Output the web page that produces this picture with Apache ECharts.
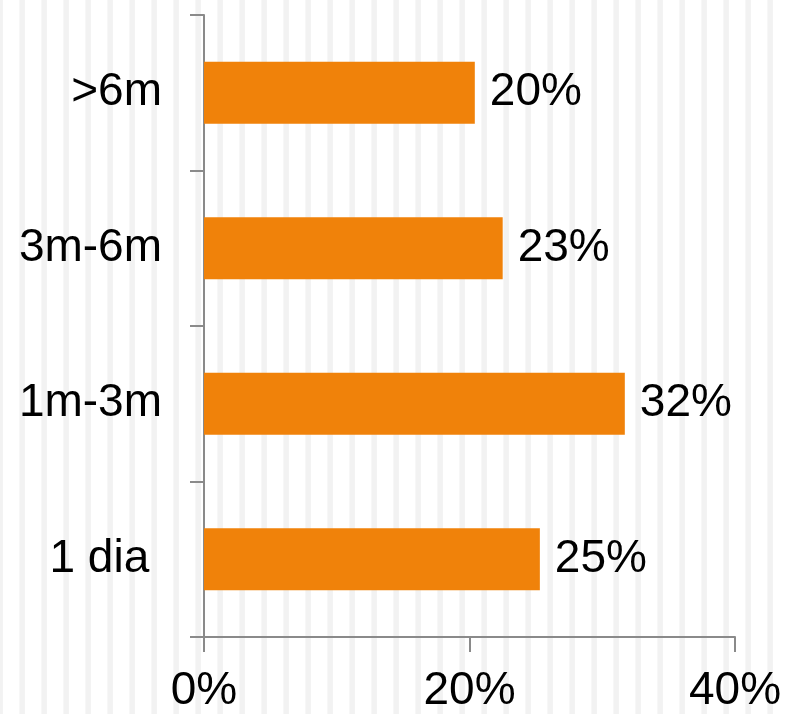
<!DOCTYPE html>
<html>
<head>
<meta charset="utf-8">
<script src="https://cdn.jsdelivr.net/npm/echarts@6/dist/echarts.min.js"></script>
<style>
html,body{margin:0;padding:0;background:#fff;}
#chart{width:786px;height:714px;}
</style>
</head>
<body>
<div id="chart"></div>
<script>
// Data (bottom to top order for category axis)
var categories = ['1 dia ', '1m-3m', '3m-6m', '>6m'];
var values = [25.3, 31.7, 22.5, 20.4];
var xTicks = [0, 20, 40];

// striped background tile
var tile = document.createElement('canvas');
tile.width = 22; tile.height = 10;
var ctx = tile.getContext('2d');
ctx.fillStyle = '#ffffff';
ctx.fillRect(0, 0, 22, 10);
ctx.fillStyle = '#f2f2f2';
ctx.fillRect(19.4, 0, 5.5, 10);
ctx.fillRect(-2.6, 0, 5.5, 10);

var font = '"Liberation Sans", Arial, sans-serif';
var axisColor = '#8a8a8a';

var chart = echarts.init(document.getElementById('chart'), null, {renderer: 'canvas'});
chart.setOption({
  backgroundColor: {image: tile, repeat: 'repeat'},
  animation: false,
  grid: {left: 204, right: 51, top: 15, bottom: 77, containLabel: false},
  xAxis: {
    type: 'value',
    min: xTicks[0],
    max: xTicks[xTicks.length - 1],
    interval: xTicks[1] - xTicks[0],
    axisLine: {show: true, lineStyle: {color: axisColor, width: 2}},
    axisTick: {show: true, length: 15, lineStyle: {color: axisColor, width: 2}},
    splitLine: {show: false},
    axisLabel: {
      formatter: '{value}%',
      fontSize: 46, fontFamily: font, color: '#000', margin: 31
    }
  },
  yAxis: {
    type: 'category',
    data: categories,
    axisLine: {show: true, lineStyle: {color: axisColor, width: 2}},
    axisTick: {show: true, length: 14, lineStyle: {color: axisColor, width: 2}},
    axisLabel: {fontSize: 46, fontFamily: font, color: '#000', margin: 42}
  },
  series: [{
    type: 'bar',
    data: values,
    barWidth: '40%',
    itemStyle: {color: '#F0820A'},
    label: {
      show: true,
      position: 'right',
      distance: 15,
      fontSize: 46,
      fontFamily: font,
      color: '#000',
      formatter: function (p) { return Math.round(p.value) + '%'; }
    }
  }]
});
</script>
</body>
</html>
